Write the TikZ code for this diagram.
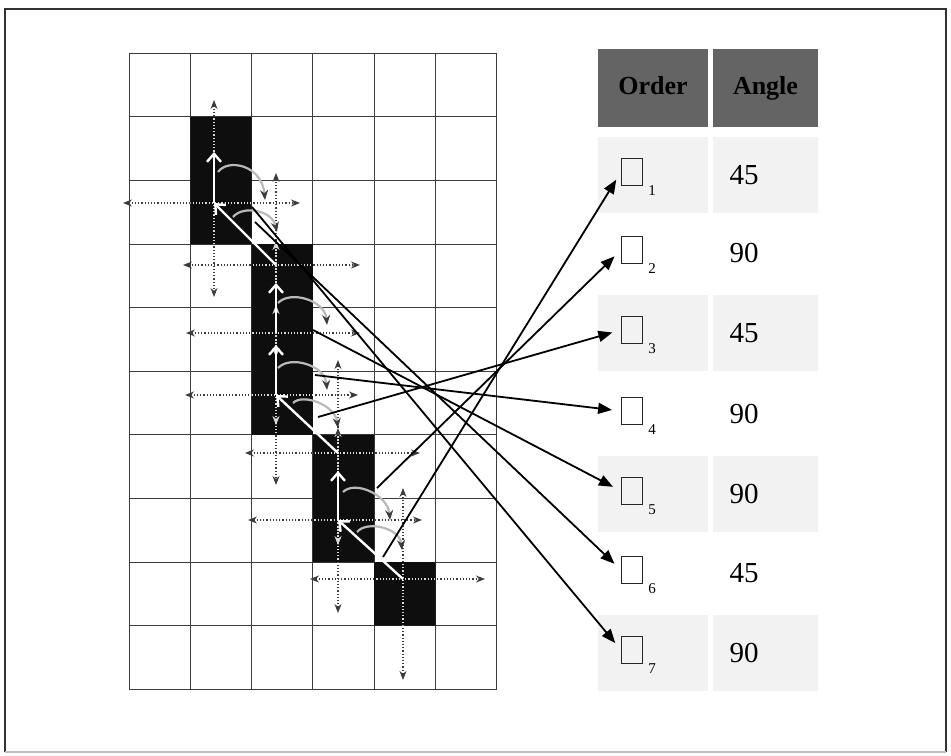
\documentclass[tikz,border=0pt]{standalone}
\usepackage{fontspec}
\setmainfont{Liberation Serif}
\usetikzlibrary{arrows.meta, calc}
\definecolor{cellBlack}{RGB}{14,14,14}
\definecolor{gridGray}{RGB}{60,60,60}
\definecolor{crossGray}{RGB}{60,60,60}
\definecolor{arcGray}{RGB}{185,185,185}
\definecolor{headGray}{RGB}{100,100,100}
\definecolor{bandGray}{RGB}{242,242,242}
% one cross of double arrows per traced pixel
\newcommand{\drawcrosses}[1]{%
  \foreach \ctr/\lx/\rx/\uy/\dy in {c1/91/86/103/94, c2/93/84/92/92, c3/90/84/92/92,
      c4/91/82/90/90, c5/93/82/93/92, c6/90/84/92/93, c7/93/82/91/101} {
    \draw[#1] ($(\ctr)+(-\lx,0)$) -- ($(\ctr)+(\rx,0)$);
    \draw[#1] ($(\ctr)+(0,-\uy)$) -- ($(\ctr)+(0,\dy)$);
  }%
}
\tikzset{
    gridline/.style={draw=gridGray, line width=0.5pt},
    crossline/.style={
        draw=crossGray,
        densely dotted,
        line width=0.6pt,
        {Stealth[length=4.5pt,width=3.5pt]}-{Stealth[length=4.5pt,width=3.5pt]}
    },
    crosslite/.style={crossline, draw=white!85!black},
    pathline/.style={draw=white, line width=1.2pt, -{Straight Barb[length=4pt,width=7pt]}},
    anglearc/.style={draw=arcGray, line width=1.1pt, -{Stealth[length=5pt,width=4pt,color=crossGray]}},
    linkarrow/.style={draw=black, line width=0.9pt, -{Triangle[length=7pt,width=5.5pt]}},
    headbox/.style={
        rectangle,
        fill=headGray,
        minimum height=39pt,
        inner sep=0pt,
        text height=9pt,
        text depth=3pt,
        font=\fontsize{13}{15}\selectfont\bfseries
    },
    bandbox/.style={rectangle, fill=bandGray, minimum height=38pt, inner sep=0pt},
    orderbox/.style={
        rectangle,
        draw=black!85,
        line width=0.5pt,
        minimum width=10.5pt,
        minimum height=13.5pt,
        inner sep=0pt
    },
    subnum/.style={font=\fontsize{7.5}{9}\selectfont, inner sep=0pt, anchor=base west},
    anglenum/.style={font=\fontsize{14.5}{17}\selectfont, inner sep=0pt}
}

\begin{document}
\begin{tikzpicture}[x=0.5pt,y=-0.5pt]
    \useasboundingbox (0,0) rectangle (951,755);
    \draw[line width=0.8pt, draw=black!80] (5,752) -- (5,9) -- (946,9) -- (946,752);
    \draw[line width=0.8pt, draw=black!25] (5,752) -- (946,752);

    % grid
    \foreach \i in {0,...,6}
        \draw[gridline] ({129+61.3*\i},53.3) -- ({129+61.3*\i},689.3);
    \foreach \j in {0,...,10}
        \draw[gridline] (129,{53.3+63.6*\j}) -- (496.8,{53.3+63.6*\j});
    \fill[cellBlack] (190.3,116.9) rectangle (251.6,244.1)
        (251.6,244.1) rectangle (312.9,434.9)
        (312.9,434.9) rectangle (374.2,562.1)
        (374.2,562.1) rectangle (435.5,625.7);

    % traced pixels
    \coordinate (c0) at (214,140);
    \coordinate (c1) at (214,203);
    \coordinate (c2) at (276,265);
    \coordinate (c3) at (276,333);
    \coordinate (c4) at (276,395);
    \coordinate (c5) at (338,453);
    \coordinate (c6) at (338,520);
    \coordinate (c7) at (403,579);

    \drawcrosses{crossline}
    \begin{scope}
        \clip (190.3,116.9) rectangle (251.6,244.1)
            (251.6,244.1) rectangle (312.9,434.9)
            (312.9,434.9) rectangle (374.2,562.1)
            (374.2,562.1) rectangle (435.5,625.7);
        \drawcrosses{crosslite}
    \end{scope}

    \draw[pathline] (c7) -- (c6);
    \draw[pathline, shorten >=9pt] (c6) -- (c5);
    \draw[pathline] (c5) -- (c4);
    \draw[pathline, shorten >=6pt] (c4) -- (c3);
    \draw[pathline, shorten >=9pt] (c3) -- (c2);
    \draw[pathline] (c2) -- (c1);
    \draw[pathline, shorten >=6pt] (c1) -- (c0);

    % angle arcs
    \draw[anglearc] (357,532) .. controls (367,520) and (400,528) .. (402,550);
    \draw[anglearc] (343,492) .. controls (355,480) and (388,495) .. (390,520);
    \draw[anglearc] (293,403) .. controls (303,393) and (335,405) .. (338,428);
    \draw[anglearc] (278,368) .. controls (290,355) and (325,365) .. (327,390);
    \draw[anglearc] (278,303) .. controls (290,290) and (325,300) .. (327,325);
    \draw[anglearc] (233,217) .. controls (243,205) and (272,210) .. (277,232);
    \draw[anglearc] (218,172) .. controls (228,158) and (262,165) .. (265,200);

    % table
    \node[headbox, minimum width=55pt] (hdOrder) at (653,88) {Order};
    \node[headbox, minimum width=52.5pt] (hdAngle) at (765.5,88) {Angle};
    \foreach \r/\y in {1/172, 3/330, 5/491, 7/650} {
        \node[bandbox, minimum width=55pt] (bandO\r) at (653,{\y+3}) {};
        \node[bandbox, minimum width=52.5pt] (bandA\r) at (765.5,{\y+3}) {};
    }
    \foreach \n/\y/\a in {1/172/45, 2/250/90, 3/330/45, 4/411/90, 5/491/90, 6/570/45, 7/650/90} {
        \node[orderbox] (sq\n) at (632,\y) {};
        \node[subnum] (sub\n) at ($(sq\n.south east)+(5,9)$) {\n};
        \node[anglenum] (ang\n) at (744,{\y+3}) {\a};
    }

    % links from the arcs to the order list
    \coordinate (s1) at (383,557);
    \coordinate (s2) at (377,488);
    \coordinate (s3) at (318,417);
    \coordinate (s4) at (315,375);
    \coordinate (s5) at (313,330);
    \coordinate (s6) at (255,222);
    \coordinate (s7) at (252,207);
    \foreach \n in {1,...,7}
        \draw[linkarrow, shorten >=4.5pt] (s\n) -- (sq\n.west);
\end{tikzpicture}
\end{document}
